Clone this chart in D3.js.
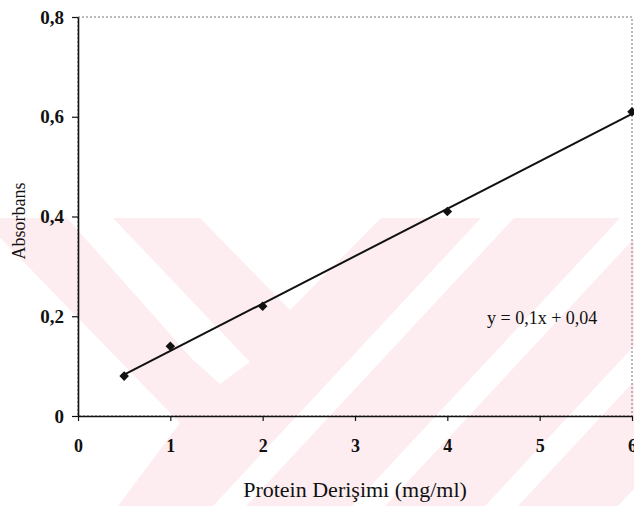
<!DOCTYPE html>
<html>
<head>
<meta charset="utf-8">
<script src="https://cdn.jsdelivr.net/npm/d3@7"></script>
<style>
  body { margin: 0; background: #fff; }
</style>
</head>
<body>
<div id="chart"></div>
<script>
// Data
const concentration = [0.5, 1, 2, 4, 6];          // mg/ml
const absorbance = [0.08, 0.14, 0.22, 0.41, 0.61];
const xTicks = [0, 1, 2, 3, 4, 5, 6];
const yTicks = [0, 0.2, 0.4, 0.6, 0.8];
const equationLabel = "y = 0,1x + 0,04";
const xTitle = "Protein Derişimi (mg/ml)";
const yTitle = "Absorbans";

const serif = "'Liberation Serif', 'Times New Roman', Times, serif";
const width = 634, height = 506;
const margin = { top: 17, right: 2, bottom: 90, left: 78 };
const w = width - margin.left - margin.right;
const h = height - margin.top - margin.bottom;

const svg = d3.select("#chart").append("svg")
    .attr("width", width)
    .attr("height", height)
    .attr("font-family", serif);

// Pale pink watermark stripes behind the chart
const pink = "#fdedf0";
const wm = svg.append("g").attr("class", "watermark");
wm.append("rect").attr("x", 0).attr("y", 218).attr("width", width).attr("height", height - 218).attr("fill", pink);
const whiteShapes = [
    [[-19, 218], [180, 423], [118, 506], [-20, 506]],
    [[67, 218], [113, 218], [250, 362], [220, 384], [193, 360]],
    [[200, 218], [381, 218], [290, 310]]
];
[481, 620, 753, 886].forEach(a => {
    whiteShapes.push([[a, 218], [a + 33, 218], [a + 33 - 268, 506], [a - 268, 506]]);
});
wm.selectAll("polygon").data(whiteShapes).enter().append("polygon")
    .attr("points", d => d.map(p => p.join(",")).join(" "))
    .attr("fill", "#fff");

const g = svg.append("g").attr("transform", `translate(${margin.left},${margin.top})`);

const x = d3.scaleLinear().domain([0, 6]).range([0, w]);
const y = d3.scaleLinear().domain([0, 0.8]).range([h, 0]);

const locale = d3.formatLocale({ decimal: ",", thousands: ".", grouping: [3], currency: ["", ""] });
const fmt = locale.format(".1f");

// Plot area border (dotted top and right)
g.append("rect")
    .attr("width", w).attr("height", h)
    .attr("fill", "none")
    .attr("stroke", "#777")
    .attr("stroke-width", 1)
    .attr("stroke-dasharray", "2,2");

// Axes
const yAxis = g.append("g")
    .call(d3.axisLeft(y).tickValues(yTicks).tickSize(6).tickSizeOuter(0).tickPadding(8)
        .tickFormat(d => d === 0 ? "0" : fmt(d)));
const xAxis = g.append("g")
    .attr("transform", `translate(0,${h})`)
    .call(d3.axisBottom(x).tickValues(xTicks).tickSize(5).tickSizeOuter(0).tickPadding(18)
        .tickFormat(d3.format("d")));

[xAxis, yAxis].forEach(ax => {
    ax.attr("font-family", serif).attr("font-weight", "bold");
    ax.select(".domain").attr("stroke", "#111").attr("stroke-width", 1.6);
    ax.selectAll(".tick line").attr("stroke", "#111").attr("stroke-width", 1.2);
    ax.selectAll(".tick text").attr("fill", "#111");
});
yAxis.attr("font-size", 19);
xAxis.attr("font-size", 18);

// Linear trendline (least squares through the points)
const pts = concentration.map((c, i) => ({ c: c, a: absorbance[i] }));
const mx = d3.mean(pts, d => d.c), my = d3.mean(pts, d => d.a);
const slope = d3.sum(pts, d => (d.c - mx) * (d.a - my)) / d3.sum(pts, d => (d.c - mx) ** 2);
const intercept = my - slope * mx;
const xr = d3.extent(concentration);

g.append("line")
    .attr("x1", x(xr[0])).attr("y1", y(intercept + slope * xr[0]))
    .attr("x2", x(xr[1])).attr("y2", y(intercept + slope * xr[1]))
    .attr("stroke", "#111")
    .attr("stroke-width", 2);

// Diamond markers
g.selectAll(".pt")
    .data(pts)
    .enter().append("path")
    .attr("class", "pt")
    .attr("d", d3.symbol(d3.symbolSquare, 46))
    .attr("transform", d => `translate(${x(d.c)},${y(d.a)}) rotate(45)`)
    .attr("fill", "#111");

// Equation label
g.append("text")
    .attr("x", x(4.43))
    .attr("y", y(0.185))
    .attr("font-size", 18)
    .attr("fill", "#111")
    .text(equationLabel);

// Axis titles
svg.append("text")
    .attr("x", 355)
    .attr("y", 497)
    .attr("text-anchor", "middle")
    .attr("font-size", 22)
    .attr("fill", "#111")
    .text(xTitle);

svg.append("text")
    .attr("transform", "translate(25,221) rotate(-90)")
    .attr("text-anchor", "middle")
    .attr("font-size", 18)
    .attr("fill", "#111")
    .text(yTitle);
</script>
</body>
</html>
